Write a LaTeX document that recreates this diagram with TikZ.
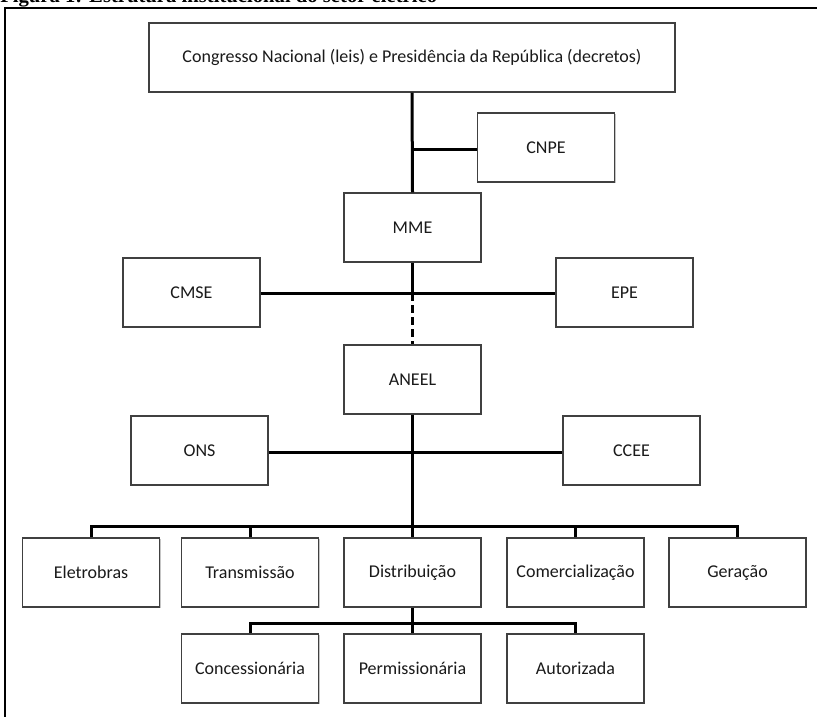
\documentclass[tikz,border=0pt]{standalone}
\usepackage{fontspec}
\usetikzlibrary{shadows}
\setmainfont{Carlito}
\newfontfamily\capfont{Liberation Serif}
\definecolor{boxline}{HTML}{404040}
\definecolor{txt}{HTML}{1A1A1A}
\begin{document}
\begin{tikzpicture}[x=0.75pt,y=-0.75pt,
  orgbox/.style={draw=boxline,line width=1pt,fill=white,inner sep=0pt,
    minimum width=102.75pt,minimum height=51.75pt,text=txt,
    font=\fontsize{13.5}{15}\selectfont,
    drop shadow={shadow xshift=0.9pt,shadow yshift=-1.1pt,fill=black!45,opacity=0.5}},
  link/.style={line width=2.25pt,line join=miter,line cap=butt},
  dashlink/.style={line width=2.25pt,dash pattern=on 6pt off 3pt}]
\useasboundingbox (0,0) rectangle (817,717);
% caption (cut off at top, as in the reference) and frame
\node[anchor=base west,inner sep=0pt,font=\capfont\bfseries\fontsize{15.5}{17}\selectfont] (cap) at (0,2.5) {Figura 1: Estrutura institucional do setor elétrico};
\draw[line width=1.6pt] (5,730) -- (5,7.8) -- (830,7.8);
% boxes
\node[orgbox,minimum width=394.5pt] (top) at (412,57.5) {Congresso Nacional (leis) e Presidência da República (decretos)};
\node[orgbox] (CNPE) at (546,147.5) {CNPE};
\node[orgbox] (MME) at (412.5,227.5) {MME};
\node[orgbox] (CMSE) at (191.5,292.5) {CMSE};
\node[orgbox] (EPE) at (624.5,292.5) {EPE};
\node[orgbox] (ANEEL) at (412.5,379.5) {ANEEL};
\node[orgbox] (ONS) at (199.5,450.5) {ONS};
\node[orgbox] (CCEE) at (631.5,450.5) {CCEE};
\node[orgbox] (Eletrobras) at (91,572.5) {Eletrobras};
\node[orgbox] (Transmissao) at (250,572.5) {Transmissão};
\node[orgbox] (Distribuicao) at (412.5,572.5) {Distribuição};
\node[orgbox] (Comercializacao) at (575.5,572.5) {Comercialização};
\node[orgbox] (Geracao) at (737.5,572.5) {Geração};
\node[orgbox] (Concessionaria) at (250,668.5) {Concessionária};
\node[orgbox] (Permissionaria) at (412.5,668.5) {Permissionária};
\node[orgbox] (Autorizada) at (575.5,668.5) {Autorizada};
% junctions
\coordinate (jcnpe) at (412.5,149);
\coordinate (jmid) at (412.5,293);
\coordinate (jlow) at (412.5,452);
\coordinate (bus) at (412.5,526);
\coordinate (sbus) at (412.5,623);
% connectors
\draw[link] (top.south) -- (MME.north);
\draw[link] (jcnpe) -- (CNPE.west|-jcnpe);
\draw[link] (MME.south) -- (jmid);
\draw[link] (CMSE.east|-jmid) -- (EPE.west|-jmid);
\draw[dashlink] (jmid) -- (ANEEL.north);
\draw[link] (ANEEL.south) -- (Distribuicao.north);
\draw[link] (ONS.east|-jlow) -- (CCEE.west|-jlow);
\draw[link] (Eletrobras.north) |- (bus) -| (Geracao.north);
\draw[link] (Transmissao.north) |- (bus) -| (Comercializacao.north);
\draw[link] (Distribuicao.south) -- (Permissionaria.north);
\draw[link] (Concessionaria.north) |- (sbus) -| (Autorizada.north);
\end{tikzpicture}
\end{document}
